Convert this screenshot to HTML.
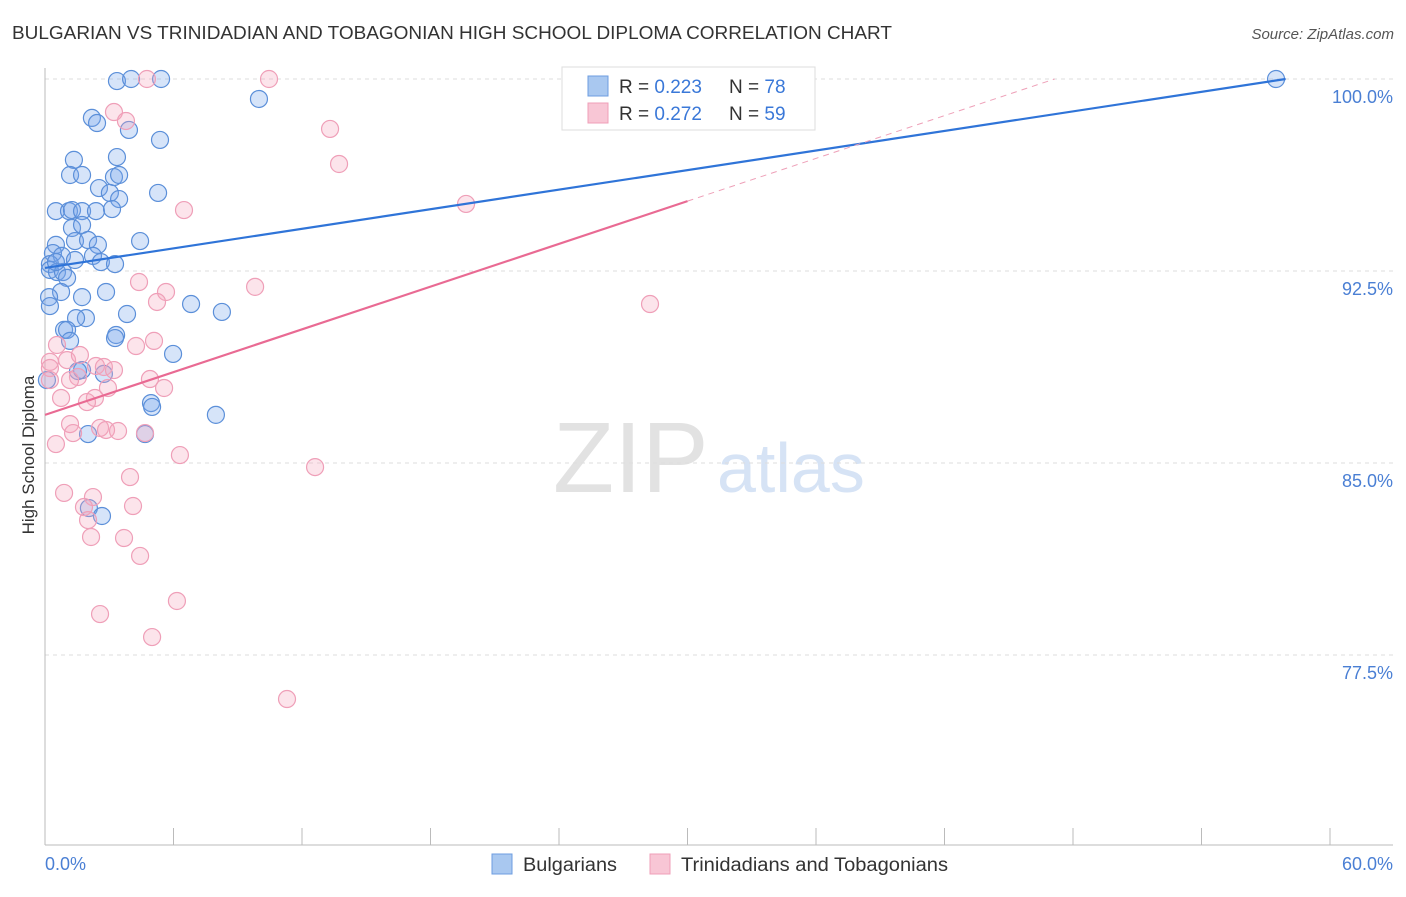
<!DOCTYPE html>
<html><head><meta charset="utf-8"><style>
body{margin:0;background:#fff;font-family:"Liberation Sans",sans-serif;}
svg text{font-family:"Liberation Sans",sans-serif;}
</style></head><body>
<svg id="chart" width="1406" height="892" viewBox="0 0 1406 892">
<text x="12" y="39" font-size="18" fill="#333" textLength="880" lengthAdjust="spacingAndGlyphs">BULGARIAN VS TRINIDADIAN AND TOBAGONIAN HIGH SCHOOL DIPLOMA CORRELATION CHART</text>
<text x="1394" y="39" font-size="15" fill="#555" text-anchor="end" font-style="italic">Source: ZipAtlas.com</text>
<g>
<text x="553" y="492" font-size="100" fill="#e2e2e2" font-family="Liberation Serif, serif">ZIP</text>
<text x="717" y="492" font-size="70" fill="#d6e3f5">atlas</text>
</g>
<g id="grid"></g>
<g id="axes"></g>
<g id="pts"></g>
<g id="lines"></g>
<text x="34" y="455" font-size="17" fill="#333" text-anchor="middle" transform="rotate(-90 34 455)">High School Diploma</text>
<g>
<rect x="562" y="67" width="253" height="63" fill="#fff" stroke="#ddd"/>
<rect x="588" y="76" width="20" height="20" fill="#a9c8f0" stroke="#6d9de0"/>
<rect x="588" y="103" width="20" height="20" fill="#f8c6d5" stroke="#ef9fb8"/>
<text x="619" y="93" font-size="19" fill="#333">R = <tspan fill="#3a78d8">0.223</tspan></text>
<text x="729" y="93" font-size="19" fill="#333">N = <tspan fill="#3a78d8">78</tspan></text>
<text x="619" y="120" font-size="19" fill="#333">R = <tspan fill="#3a78d8">0.272</tspan></text>
<text x="729" y="120" font-size="19" fill="#333">N = <tspan fill="#3a78d8">59</tspan></text>
</g>
<g>
<rect x="492" y="854" width="20" height="20" fill="#a9c8f0" stroke="#6d9de0"/>
<text x="523" y="871" font-size="19" fill="#333" textLength="94" lengthAdjust="spacingAndGlyphs">Bulgarians</text>
<rect x="650" y="854" width="20" height="20" fill="#f8c6d5" stroke="#ef9fb8"/>
<text x="681" y="871" font-size="19" fill="#333" textLength="267" lengthAdjust="spacingAndGlyphs">Trinidadians and Tobagonians</text>
</g>
</svg>
<script>
const blueX=[3.36,4.02,5.42,9.99,2.19,2.43,3.92,5.37,1.35,3.36,1.17,1.73,3.22,3.46,2.52,3.03,5.28,3.46,0.51,1.12,1.26,1.73,2.38,3.13,1.26,1.73,0.51,1.40,2.01,2.47,4.44,0.37,0.79,2.24,2.61,3.27,0.23,0.23,0.56,0.84,1.03,0.75,1.73,2.85,0.19,0.23,6.82,8.26,1.91,1.45,3.83,0.89,1.03,3.32,3.27,1.17,5.98,1.73,2.75,1.54,4.95,5.0,7.98,2.01,4.67,2.05,2.66,57.48,0.09,0.51,1.40];
const blueY=[99.92,100,100,99.22,98.48,98.28,98.01,97.62,96.84,96.95,96.25,96.25,96.17,96.25,95.74,95.55,95.55,95.31,94.84,94.84,94.88,94.84,94.84,94.92,94.18,94.30,93.52,93.67,93.71,93.52,93.67,93.20,93.09,93.09,92.85,92.77,92.77,92.54,92.46,92.46,92.23,91.68,91.48,91.68,91.48,91.13,91.21,90.90,90.66,90.66,90.82,90.20,90.20,90.0,89.88,89.77,89.26,88.63,88.48,88.59,87.34,87.19,86.88,86.13,86.13,83.24,82.93,100,88.24,92.85,92.93];
const pinkX=[4.76,10.46,3.22,3.78,13.31,13.73,6.49,19.66,4.39,5.65,5.23,9.81,28.25,5.09,4.25,0.56,0.23,0.23,1.03,1.63,2.38,2.75,3.22,1.54,4.90,5.56,2.94,0.23,2.33,1.96,1.17,1.31,2.57,2.85,3.41,4.67,6.30,0.51,12.61,3.97,0.89,2.24,1.82,4.11,2.01,2.15,3.69,4.44,6.16,2.57,5.0,11.30,1.17,0.75];
const pinkY=[100,100,98.71,98.36,98.05,96.68,94.88,95.12,92.07,91.68,91.29,91.88,91.21,89.77,89.57,89.61,88.95,88.71,89.02,89.22,88.79,88.75,88.63,88.36,88.28,87.93,87.93,88.24,87.54,87.38,86.52,86.17,86.37,86.29,86.25,86.17,85.31,85.74,84.84,84.45,83.83,83.67,83.28,83.32,82.77,82.11,82.07,81.37,79.61,79.10,78.20,75.78,88.24,87.54];
const yTicks=[100,92.5,85,77.5];
const yTickLabels=["100.0%","92.5%","85.0%","77.5%"];
const xTicks=[0,6,12,18,24,30,36,42,48,54,60];
const blueTrend=[92.62,0.1274];
const pinkTrend=[86.88,0.2783];

const NS="http://www.w3.org/2000/svg";
const xs=v=>45+v*(1330-45)/60;
const ys=v=>79+(100-v)*25.6;
function mk(tag,attrs,parent){const e=document.createElementNS(NS,tag);for(const k in attrs)e.setAttribute(k,attrs[k]);document.getElementById(parent).appendChild(e);return e;}

yTicks.forEach((t,i)=>{
  const g=mk('line',{x1:45,x2:1393,y1:ys(t),y2:ys(t),stroke:'#ddd','stroke-dasharray':'4,4'},'grid');
  
  
  const l=mk('text',{x:1393,y:ys(t)+24,'text-anchor':'end','font-size':18,fill:'#4a7fd4'},'grid');
  l.textContent=yTickLabels[i];
  
  
});
const ax=mk('line',{x1:45,x2:45,y1:68,y2:845,stroke:'#bbb'},'axes');


const bx=mk('line',{x1:45,x2:1393,y1:845,y2:845,stroke:'#bbb'},'axes');


xTicks.forEach(t=>{
  const k=mk('line',{x1:xs(t),x2:xs(t),y1:828,y2:845,stroke:'#bbb'},'axes');
  
  
});
const x0=mk('text',{x:45,y:870,'font-size':18,fill:'#4a7fd4'},'axes');x0.textContent='0.0%';


const x1=mk('text',{x:1393,y:870,'font-size':18,fill:'#4a7fd4','text-anchor':'end'},'axes');x1.textContent='60.0%';



blueX.forEach((v,i)=>{
  const c=mk('circle',{cx:xs(v),cy:ys(blueY[i]),r:8.5,fill:'rgba(120,165,235,0.3)',stroke:'#5b8fd9','stroke-width':1.2},'pts');
  
  
});
pinkX.forEach((v,i)=>{
  const c=mk('circle',{cx:xs(v),cy:ys(pinkY[i]),r:8.5,fill:'rgba(245,165,190,0.3)',stroke:'#ef9fb8','stroke-width':1.2},'pts');
  
  
});
const bEnd=(100-blueTrend[0])/blueTrend[1];
const bl=mk('line',{x1:xs(0),y1:ys(blueTrend[0]),x2:xs(bEnd),y2:ys(100),stroke:'#2f74d8','stroke-width':2.2},'lines');


const pl=mk('line',{x1:xs(0),y1:ys(pinkTrend[0]),x2:xs(30),y2:ys(pinkTrend[0]+pinkTrend[1]*30),stroke:'#e96a93','stroke-width':2.2},'lines');


const pEnd=(100-pinkTrend[0])/pinkTrend[1];
const pd=mk('line',{x1:xs(30),y1:ys(pinkTrend[0]+pinkTrend[1]*30),x2:xs(pEnd),y2:ys(100),stroke:'#eea0b8','stroke-width':1,'stroke-dasharray':'6,5'},'lines');


</script>
</body></html>
